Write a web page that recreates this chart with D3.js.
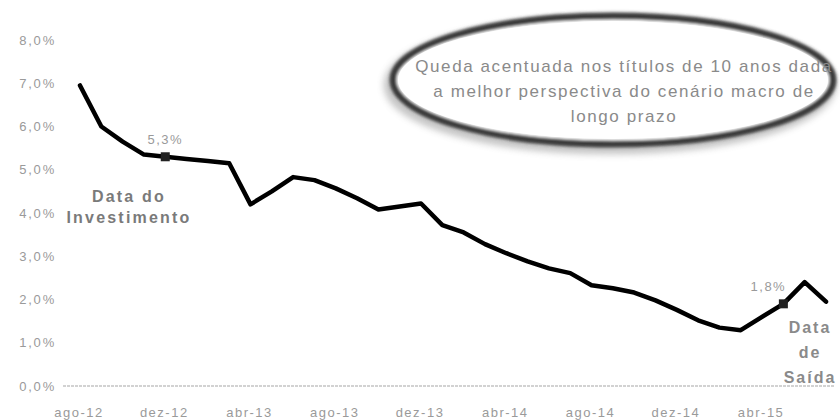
<!DOCTYPE html>
<html><head><meta charset="utf-8">
<script src="https://cdn.jsdelivr.net/npm/d3@7"></script>
<style>
body{margin:0;background:#fff;}
svg{display:block;font-family:Arial,"Liberation Sans",sans-serif;}
</style></head>
<body><svg id="c" width="840" height="420"></svg>
<script>
// Months from ago-12 (index 0) to jul-15 (index 35)
const months = ["ago-12","set-12","out-12","nov-12","dez-12","jan-13","fev-13","mar-13","abr-13","mai-13","jun-13","jul-13",
  "ago-13","set-13","out-13","nov-13","dez-13","jan-14","fev-14","mar-14","abr-14","mai-14","jun-14","jul-14",
  "ago-14","set-14","out-14","nov-14","dez-14","jan-15","fev-15","mar-15","abr-15","mai-15","jun-15","jul-15"];
// Yield of 10-year bonds (%)
const yields = [6.95,6.0,5.65,5.35,5.3,5.25,5.2,5.15,4.2,4.5,4.83,4.76,
  4.57,4.34,4.08,4.15,4.22,3.72,3.55,3.28,3.07,2.88,2.72,2.61,
  2.33,2.26,2.16,1.98,1.76,1.52,1.35,1.29,1.6,1.9,2.4,1.95];
const tickMonths = ["ago-12","dez-12","abr-13","ago-13","dez-13","abr-14","ago-14","dez-14","abr-15"];
const yTicks = [0,1,2,3,4,5,6,7,8];
const pointLabels = [{m:"dez-12", text:"5,3%"}, {m:"mai-15", text:"1,8%"}];
const noteLines = ["Queda acentuada nos títulos de 10 anos dada","a melhor perspectiva do cenário macro de","longo prazo"];
const entryLines = ["Data do","Investimento"];
const exitLines = ["Data","de","Saída"];

const svg = d3.select("#c");
const x = d3.scaleLinear().domain([0, months.length-1]).range([80, 826]);
const y = d3.scaleLinear().domain([0, 8]).range([386, 40]);
const grey = "#8a8a8a";

const defs = svg.append("defs");
const f = defs.append("filter").attr("id","blur").attr("x","-10%").attr("y","-30%").attr("width","120%").attr("height","160%");
f.append("feGaussianBlur").attr("stdDeviation",1.6);
const f2 = defs.append("filter").attr("id","blur2").attr("x","-10%").attr("y","-30%").attr("width","120%").attr("height","160%");
f2.append("feGaussianBlur").attr("stdDeviation",3.5);

// y axis labels
svg.append("g").selectAll("text").data(yTicks).join("text")
  .attr("x", 56).attr("y", d => y(d)).attr("dy","0.35em")
  .attr("text-anchor","end").attr("font-size",13).attr("letter-spacing",1.8).attr("fill","#9a9a9a")
  .text(d => d3.format(".1f")(d).replace(".",",") + "%");

// baseline axis
svg.append("line").attr("x1",63).attr("x2",834).attr("y1",y(0)).attr("y2",y(0))
  .attr("stroke","#c4c4c4").attr("stroke-width",1.5).attr("stroke-dasharray","3,1");

// x labels
svg.append("g").selectAll("text").data(tickMonths).join("text")
  .attr("x", d => x(months.indexOf(d)) - 1).attr("y", 412).attr("dy","0.35em")
  .attr("text-anchor","middle").attr("font-size",13).attr("letter-spacing",1.5).attr("fill","#9a9a9a")
  .text(d => d);

// ellipse annotation
svg.append("ellipse").attr("cx",610).attr("cy",85).attr("rx",221).attr("ry",64)
  .attr("fill","none").attr("stroke","#777").attr("stroke-width",10).attr("filter","url(#blur2)").attr("opacity",0.45);
svg.append("ellipse").attr("cx",613).attr("cy",80).attr("rx",220).attr("ry",64)
  .attr("fill","#fff").attr("stroke","#3a3a3a").attr("stroke-width",7).attr("filter","url(#blur)");
svg.append("ellipse").attr("cx",613).attr("cy",80).attr("rx",215).attr("ry",59)
  .attr("fill","#fff").attr("stroke","none");

svg.append("g").selectAll("text").data(noteLines).join("text")
  .attr("x",624).attr("y",(d,i)=>66 + i*25).attr("dy","0.35em")
  .attr("text-anchor","middle").attr("font-size",17).attr("fill",grey).attr("letter-spacing",1.6)
  .text(d=>d);

// line
const line = d3.line().x((d,i)=>x(i)).y(d=>y(d)).curve(d3.curveLinear);
svg.append("path").datum(yields).attr("d",line)
  .attr("fill","none").attr("stroke","#000").attr("stroke-width",4.5)
  .attr("stroke-linejoin","round").attr("stroke-linecap","round");

// markers and labels
pointLabels.forEach(p=>{
  const i = months.indexOf(p.m);
  svg.append("rect").attr("x",x(i)-4.5).attr("y",y(yields[i])-4.5).attr("width",9).attr("height",9).attr("fill","#222");
  svg.append("text").attr("x",x(i)-(i>20?15:0)).attr("y",y(yields[i])-17).attr("dy","0.35em")
    .attr("text-anchor","middle").attr("font-size",13).attr("letter-spacing",1.5).attr("fill","#9a9a9a").text(p.text);
});

// entry / exit annotations
svg.append("g").selectAll("text").data(entryLines).join("text")
  .attr("x",129).attr("y",(d,i)=>196 + i*21).attr("dy","0.35em")
  .attr("text-anchor","middle").attr("font-size",16).attr("font-weight","bold")
  .attr("letter-spacing",2.2).attr("fill","#7a7a7a").text(d=>d);

svg.append("g").selectAll("text").data(exitLines).join("text")
  .attr("x",810).attr("y",(d,i)=>327 + i*25).attr("dy","0.35em")
  .attr("text-anchor","middle").attr("font-size",16).attr("font-weight","bold")
  .attr("letter-spacing",2).attr("fill","#8a8a8a").text(d=>d);
</script></body></html>
